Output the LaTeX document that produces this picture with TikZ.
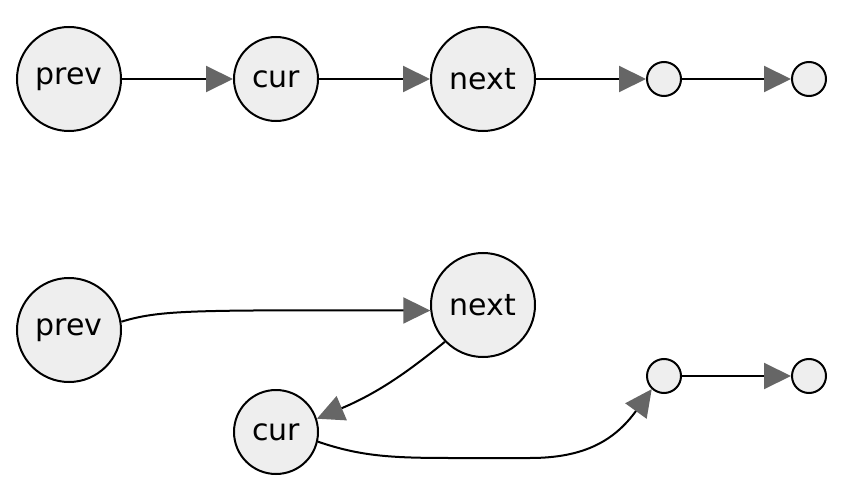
\documentclass[tikz,border=0pt]{standalone}
\usepackage{fontspec}
\setmainfont{DejaVu Sans}
\usetikzlibrary{arrows.meta,positioning,calc}
\definecolor{nodegray}{HTML}{EEEEEE}
\definecolor{tipgray}{HTML}{666666}
\begin{document}
\begin{tikzpicture}[x=1pt, y=-1pt,
    item/.style={circle, draw, line width=2pt, fill=nodegray, inner sep=0pt,
      font={\fontsize{30}{36}\selectfont}},
    big/.style={item, minimum size=104pt},
    mid/.style={item, minimum size=84pt},
    dot/.style={item, minimum size=34pt},
    link/.style={line width=2pt, -{Triangle[length=27pt, width=26pt, color=tipgray]}}]
    \useasboundingbox (0,0) rectangle (844,500);
    % before
    \begin{scope}
      \node[big] (prev) at (69,79) {prev};
      \node[mid] (cur) at (276,79) {cur};
      \node[big] (next) at (483,79) {next};
      \node[dot] (restA) at (664,79) {};
      \node[dot] (restB) at (809,79) {};
      \draw[link] (prev) -- (cur);
      \draw[link] (cur) -- (next);
      \draw[link] (next) -- (restA);
      \draw[link] (restA) -- (restB);
    \end{scope}
    % after
    \begin{scope}
      \node[big] (prev2) at (69,330) {prev};
      \node[big] (next2) at (483,305) {next};
      \node[mid] (cur2) at (276,432) {cur};
      \node[dot] (restA2) at (664,376) {};
      \node[dot] (restB2) at (809,376) {};
      \draw[link] (prev2.9) .. controls (160,310) and (190,310) .. (next2.186);
      \draw[link] (next2.224) .. controls (410,370) and (380,392) .. (cur2.18);
      \draw[link] (cur2.-13) .. controls (360,456) and (390,458) .. (450,458)
        -- (530,458) .. controls (585,458) and (615,440) .. (restA2.227);
      \draw[link] (restA2) -- (restB2);
    \end{scope}
\end{tikzpicture}
\end{document}
